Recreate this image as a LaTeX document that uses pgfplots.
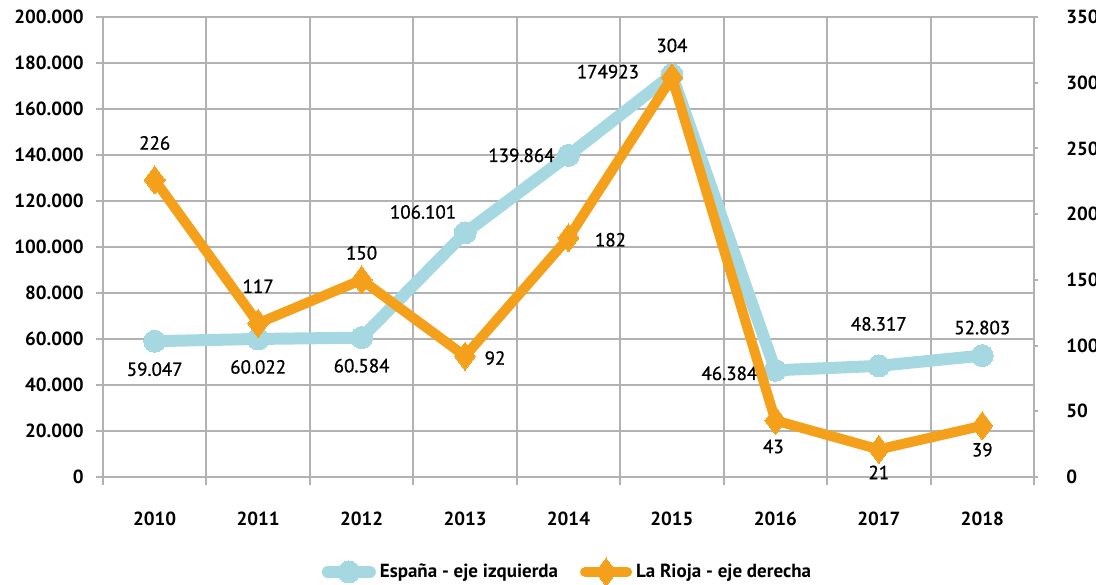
\documentclass[border=0pt]{standalone}
\usepackage{pgfplots}
\pgfplotsset{compat=1.18}
\usepackage{pgfplotstable}
\usepackage{fontspec}
\setmainfont{PT Sans}
\definecolor{esp}{RGB}{166,216,226}
\definecolor{rio}{RGB}{245,160,26}
\definecolor{gridc}{RGB}{178,178,178}

\pgfplotstableread{
x y lab dx dy
0 59047 59.047 0 -14
1 60022 60.022 0 -14
2 60584 60.584 0 -14
3 106101 106.101 -21 10.5
4 139864 139.864 -23.5 0
5 174923 174923 -32 1.5
6 46384 46.384 -23 -1.5
7 48317 48.317 0 21
8 52803 52.803 0 14
}\espana

\pgfplotstableread{
x y lab dx dy
0 226 226 0 18.5
1 117 117 0 18.5
2 150 150 0 13.5
3 92 92 15 -1
4 182 182 21 -1
5 304 304 0 16
6 43 43 -1 -13
7 21 21 0 -11.5
8 39 39 0 -12
}\rioja

\begin{document}
\fontsize{9.5}{11}\selectfont
\begin{tikzpicture}
\pgfplotsset{
  common/.style={
    scale only axis, width=465.5pt, height=230pt,
    xmin=-0.5, xmax=8.5,
    /pgf/number format/assume math mode=true,
    ticklabel style={font=\fontsize{9.5}{11}\selectfont\bfseries, inner sep=0pt},
    nodes near coords style={font=\fontsize{9.5}{11}\selectfont\addfontfeature{FakeBold=0.9}, text=black, anchor=center},
  },
}
\begin{axis}[common, name=left,
  ymin=0, ymax=200000,
  ytick={0,20000,...,200000},
  /pgf/number format/.cd, 1000 sep={.}, fixed, /pgfplots/.cd,
  scaled y ticks=false,
  xtick={0,...,8},
  xticklabels={2010,2011,2012,2013,2014,2015,2016,2017,2018},
  minor xtick={-0.5,0.5,...,8.5},
  xminorgrids, ymajorgrids,
  grid style={draw=gridc, line width=1pt},
  minor grid style={draw=gridc, line width=1pt},
  axis line style={draw=gridc, line width=1pt},
  tick align=outside,
  xtick pos=bottom, ytick pos=left,
  major x tick style={draw=none},
  minor x tick style={draw=gridc, line width=1pt},
  minor tick length=4pt,
  major y tick style={draw=gridc, line width=1pt},
  major tick length=3.5pt,
  xticklabel style={anchor=center, yshift=-17.5pt},
  yticklabel style={anchor=east, xshift=-6pt},
  clip=false,
]
\addplot[esp, line width=6pt, line cap=round, line join=round,
  mark=*, mark size=5.5pt, mark options={fill=esp, draw=esp, line width=0pt},
  point meta=explicit symbolic,
  nodes near coords,
  visualization depends on={\thisrow{dx}\as\dx},
  visualization depends on={\thisrow{dy}\as\dy},
  every node near coord/.append style={xshift=\dx pt, yshift=\dy pt},
] table[x=x, y=y, meta=lab] {\espana};
\end{axis}
\begin{axis}[common,
  ymin=0, ymax=350,
  ytick={0,50,...,350},
  axis y line*=right, axis x line=none,
  axis line style={draw=gridc, line width=1pt},
  tick align=outside,
  major y tick style={draw=gridc, line width=1pt},
  major tick length=2pt,
  yticklabel shift=14pt,
  yticklabel style={anchor=west},
  clip=false,
  legend style={at={(0.5,-0.2065)}, anchor=center, draw=none, fill=none,
    legend columns=2, font=\fontsize{9.5}{11}\selectfont\bfseries,
    /tikz/every even column/.append style={column sep=9pt},
    cells={anchor=west}},
  legend image code/.code={\draw[mark repeat=2, mark phase=2] plot coordinates {(0pt,0pt) (10.5pt,0pt) (21pt,0pt)};},
]
\addlegendimage{esp, line width=6pt, line cap=round, mark=*, mark size=5.5pt, mark options={fill=esp, draw=esp, line width=0pt}}
\addlegendentry{España - eje izquierda}
\addplot[rio, line width=5pt, line cap=round, line join=round,
  mark=diamond*, mark size=7pt, mark options={fill=rio, draw=rio, line width=0pt},
  point meta=explicit symbolic,
  nodes near coords,
  visualization depends on={\thisrow{dx}\as\dx},
  visualization depends on={\thisrow{dy}\as\dy},
  every node near coord/.append style={xshift=\dx pt, yshift=\dy pt},
] table[x=x, y=y, meta=lab] {\rioja};
\addlegendentry{La Rioja - eje derecha}
\end{axis}
\pgfresetboundingbox
\path (left.south west) ++(-51.5pt,-53.5pt) rectangle ++(548pt,292pt);
\end{tikzpicture}
\end{document}
